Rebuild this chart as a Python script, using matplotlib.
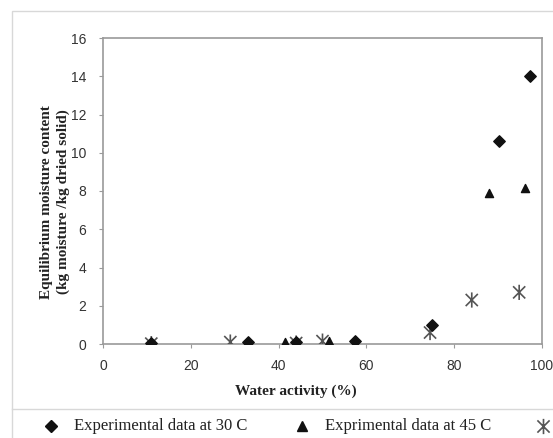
import matplotlib
matplotlib.use("Agg")
import matplotlib.pyplot as plt
from matplotlib.path import Path
from matplotlib.lines import Line2D
from matplotlib.patches import Rectangle

aw30_x = [11, 33, 44, 57.5, 75, 90.3, 97.3]
emc30_y = [0.05, 0.12, 0.1, 0.18, 1.0, 10.6, 14.0]
aw45_x = [11, 41.5, 51.5, 87.9, 96.1]
emc45_y = [0.05, 0.12, 0.15, 7.9, 8.15]
aw60_x = [11, 29, 44, 50, 74.5, 84, 94.8]
emc60_y = [0.02, 0.1, 0.05, 0.15, 0.6, 2.3, 2.7]

labels = ["Experimental data at 30 C", "Exprimental data at 45 C", ""]
xticks = [0, 20, 40, 60, 80, 100]
yticks = [0, 2, 4, 6, 8, 10, 12, 14, 16]

W, H = 553, 438
fig = plt.figure(figsize=(W / 100, H / 100), dpi=100)
fig.patch.set_facecolor("white")

# outer chart frame
fig.add_artist(Rectangle((12 / W, -0.05), 1.0, (H - 11) / H + 0.05, transform=fig.transFigure,
                         fill=False, edgecolor="#d8d8d8", linewidth=1.0))
fig.add_artist(Line2D([12 / W, 1.0], [1 - 409 / H, 1 - 409 / H], transform=fig.transFigure,
                      color="#d8d8d8", linewidth=1.0))

left, right, top, bottom = 103, 542, 38, 344
ax = fig.add_axes([left / W, 1 - bottom / H, (right - left) / W, (bottom - top) / H])

star = Path([(0, -1), (0, 1), (-0.8, -0.8), (0.8, 0.8), (-0.8, 0.8), (0.8, -0.8)],
            [Path.MOVETO, Path.LINETO, Path.MOVETO, Path.LINETO, Path.MOVETO, Path.LINETO])

ax.scatter(aw60_x, emc60_y, marker=star, s=120, facecolors="none", edgecolors="#555555",
           linewidths=1.2, zorder=3)
ax.scatter(aw45_x, emc45_y, marker="^", s=34, color="#111111", zorder=4)
ax.scatter(aw30_x, emc30_y, marker="D", s=34, color="#111111", zorder=5)

ax.set_xlim(0, 100)
ax.set_ylim(0, 16)
ax.set_xticks(xticks)
ax.set_yticks(yticks)
for sp in ax.spines.values():
    sp.set_color("#9a9a9a")
    sp.set_linewidth(1.2)
ax.tick_params(axis="both", direction="out", length=3, color="#9a9a9a", labelcolor="#333333",
               labelsize=10)
for t in ax.get_xticklabels() + ax.get_yticklabels():
    t.set_family("Liberation Sans")
ax.tick_params(axis="x", pad=8)
ax.tick_params(axis="y", pad=9)

ax.set_xlabel("Water activity (%)", family="Liberation Serif", fontweight="bold", fontsize=11,
              color="#222222")
ax.xaxis.set_label_coords((296 - left) / (right - left), (bottom - 385) / (bottom - top))
ax.set_ylabel("Equilibrium moisture content\n(kg moisture /kg dried solid)", family="Liberation Serif",
              fontweight="bold", fontsize=11, color="#222222", linespacing=1.35)
ax.yaxis.set_label_coords((70 - left) / (right - left), (bottom - 202) / (bottom - top))

# legend drawn as marker + text pairs
leg_y = 1 - 426 / H
handles = [
    dict(marker="D", markersize=6, color="#111111"),
    dict(marker="^", markersize=6.5, color="#111111"),
    dict(marker=star, markersize=11, markerfacecolor="none", markeredgecolor="#555555",
         markeredgewidth=1.2),
]
marker_x = [51, 302, 543]
for mx, h, lab in zip(marker_x, handles, labels):
    fig.add_artist(Line2D([mx / W], [leg_y], linestyle="none", transform=fig.transFigure, **h))
    if lab:
        fig.text((mx + 23) / W, leg_y, lab, family="Liberation Serif", fontsize=12,
                 va="center", ha="left", color="#222222")

fig.savefig("out.png", dpi=100)
